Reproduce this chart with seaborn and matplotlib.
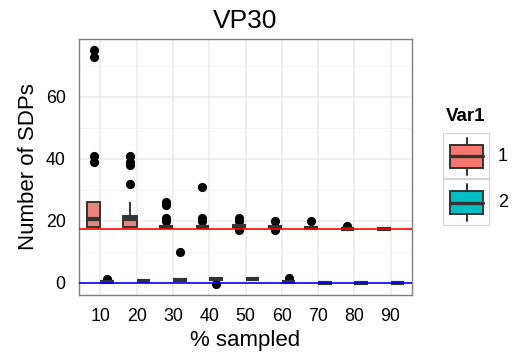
import numpy as np
import pandas as pd
import seaborn as sns
import matplotlib
matplotlib.use("Agg")
import matplotlib.pyplot as plt
from matplotlib.patches import Rectangle
from matplotlib.lines import Line2D

# ---- data ----
pct_sampled = ["10", "20", "30", "40", "50", "60", "70", "80", "90"]
var_levels = ["1", "2"]

var1_samples = [
    [18] * 7 + [19, 19, 20, 20, 20, 21, 24] + [26] * 6 + [39, 41, 73, 75],
    [18] * 8 + [19, 19, 20, 20, 20, 21, 21] + [21.5] * 6 + [26, 32, 38, 39, 41],
    [18] * 20 + [20, 21, 25, 26],
    [18] * 20 + [20, 21, 31],
    [18.2] * 20 + [17, 20, 21],
    [18.1] * 20 + [17, 20],
    [17.6] * 20 + [20],
    [17.4] * 20 + [18.2],
    [17.3] * 20,
]
var2_samples = [
    [0.1] * 20 + [1.3],
    [0.45] * 20,
    [1.0] * 20 + [10],
    [1.1] * 20 + [-0.3],
    [1.1] * 20,
    [0.2] * 20 + [1.5],
    [0.0] * 20,
    [0.0] * 20,
    [0.0] * 20,
]
red_line = 17.3
blue_line = 0.0
palette = ["#F8766D", "#00BFC4"]
edge = "#333333"

rows = []
for p, s1, s2 in zip(pct_sampled, var1_samples, var2_samples):
    for v in s1:
        rows.append((p, "1", v))
    for v in s2:
        rows.append((p, "2", v))
df = pd.DataFrame(rows, columns=["pct", "Var1", "SDPs"])

# ---- figure ----
sns.set_theme(style="white")
plt.rcParams["font.family"] = ["Liberation Sans", "DejaVu Sans"]
plt.rcParams["text.color"] = "black"
plt.rcParams["axes.labelcolor"] = "black"

W, H = 517, 363
fig = plt.figure(figsize=(W / 100, H / 100), dpi=100)
L, R, T, B = 78.7, 412.3, 38.7, 295.3
ax = fig.add_axes([L / W, 1 - B / H, (R - L) / W, (B - T) / H])

sns.boxplot(
    data=df, x="pct", y="SDPs", hue="Var1", order=pct_sampled,
    hue_order=var_levels, palette=palette, width=0.75, gap=0,
    linecolor=edge, linewidth=1.4, dodge=True, legend=False, ax=ax,
    showcaps=False,
    medianprops=dict(color=edge, linewidth=3.0),
    flierprops=dict(marker="o", markerfacecolor="black",
                    markeredgecolor="black", markersize=5.6),
)

ax.axhline(red_line, color="#FF0000", linewidth=1.2, zorder=5)
ax.axhline(blue_line, color="#0000FF", linewidth=1.2, zorder=5)

vals = df["SDPs"]
ymin, ymax = vals.min(), vals.max()
ymin = min(ymin, 0)
rng = ymax - ymin
ax.set_ylim(ymin - 0.05 * rng, ymax + 0.05 * rng)
ax.set_xlim(-0.6, len(pct_sampled) - 1 + 0.6)

ax.set_yticks([0, 20, 40, 60])
ax.set_yticks([10, 30, 50, 70], minor=True)
ax.set_axisbelow(True)
ax.grid(True, which="major", color="#EBEBEB", linewidth=1.1)
ax.grid(True, which="minor", axis="y", color="#F2F2F2", linewidth=0.6)
for sp in ax.spines.values():
    sp.set_color("#7F7F7F")
    sp.set_linewidth(1.0)
ax.tick_params(axis="both", which="major", length=5.5, width=1.1,
               color="#333333", labelsize=12.8, labelcolor="black", pad=4)
ax.tick_params(axis="both", which="minor", length=0)

ax.set_xlabel("% sampled", fontsize=16, labelpad=3)
ax.set_ylabel("Number of SDPs", fontsize=16, labelpad=5)
ax.set_title("VP30", fontsize=19, pad=8, color="black")

# ---- legend (ggplot style, boxplot glyph keys) ----
fig.text(446 / W, 1 - 116.5 / H, "Var1", fontsize=13.5, fontweight="bold",
         ha="left", va="center")
key_tops = [133, 179.5]
for col, lab, top in zip(palette, var_levels, key_tops):
    kx0, kw, kh = 443, 47, 46.5
    kax = fig.add_axes([kx0 / W, 1 - (top + kh) / H, kw / W, kh / H])
    kax.set_xlim(0, 1)
    kax.set_ylim(0, 1)
    kax.axis("off")
    kax.add_patch(Rectangle((0.0, 0.0), 1, 1, facecolor="white",
                            edgecolor="#D4D4D4", linewidth=1.6))
    kax.add_line(Line2D([0.5, 0.5], [0.1, 0.25], color=edge, linewidth=1.4))
    kax.add_line(Line2D([0.5, 0.5], [0.75, 0.9], color=edge, linewidth=1.4))
    kax.add_patch(Rectangle((0.15, 0.25), 0.7, 0.5, facecolor=col,
                            edgecolor=edge, linewidth=1.4))
    kax.add_line(Line2D([0.15, 0.85], [0.5, 0.5], color=edge, linewidth=2.4))
    fig.text(498 / W, 1 - (top + kh / 2) / H, lab, fontsize=13,
             ha="left", va="center")

fig.savefig("out.png", dpi=100)
